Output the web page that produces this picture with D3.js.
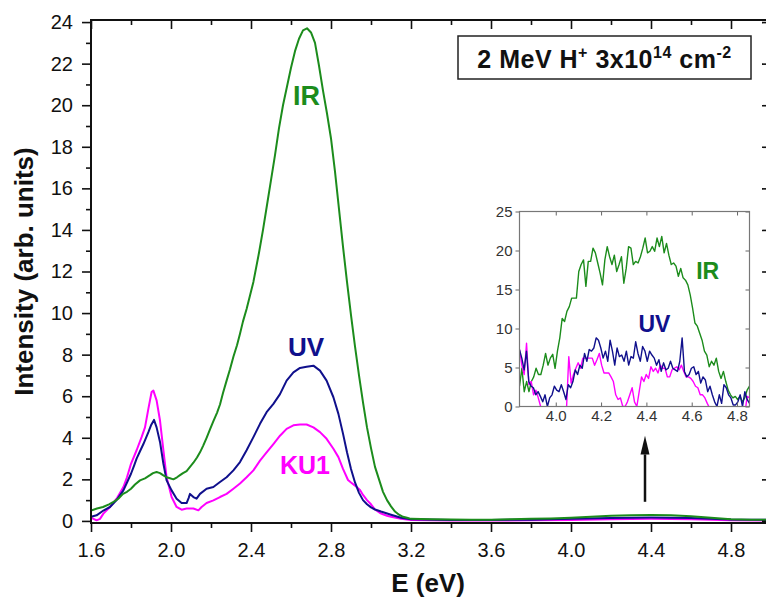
<!DOCTYPE html>
<html><head><meta charset="utf-8">
<script src="https://cdn.jsdelivr.net/npm/d3@7/dist/d3.min.js"></script>
<style>body{margin:0;background:#fff} text{font-family:"Liberation Sans",Arial,sans-serif}</style>
</head><body><svg id="c" width="766" height="598"></svg>
<script>
// ---------- data ----------
const xMajor = [1.6,2.0,2.4,2.8,3.2,3.6,4.0,4.4,4.8];
const xMinor = [1.8,2.2,2.6,3.0,3.4,3.8,4.2,4.6,5.0];
const yMajor = [0,2,4,6,8,10,12,14,16,18,20,22,24];
const yMinor = [1,3,5,7,9,11,13,15,17,19,21,23];
const insetXTicks = [4.0,4.2,4.4,4.6,4.8];
const insetYTicks = [0,5,10,15,20,25];

const eIR = [1.60,1.63,1.66,1.69,1.71,1.74,1.76,1.78,1.80,1.82,1.845,1.87,1.895,1.91,1.928,1.945,1.96,1.978,1.995,2.012,2.03,2.045,2.06,2.078,2.095,2.112,2.13,2.145,2.16,2.178,2.195,2.212,2.23,2.245,2.26,2.278,2.295,2.312,2.33,2.345,2.36,2.378,2.395,2.412,2.44,2.46,2.48,2.50,2.52,2.54,2.56,2.58,2.60,2.62,2.64,2.66,2.68,2.70,2.72,2.74,2.76,2.78,2.80,2.82,2.84,2.86,2.88,2.90,2.92,2.94,2.96,2.98,3.00,3.02,3.04,3.06,3.08,3.10,3.12,3.14,3.16,3.18,3.20,3.3,3.4,3.5,3.6,3.7,3.8,3.9,4.0,4.1,4.2,4.3,4.4,4.5,4.6,4.7,4.8,4.9,5.0];
const vIR = [0.5,0.6,0.67,0.8,0.9,1.1,1.3,1.4,1.55,1.75,1.95,2.05,2.2,2.3,2.35,2.3,2.2,2.1,2.05,2.0,2.1,2.2,2.3,2.4,2.6,2.8,3.05,3.3,3.6,4.0,4.4,4.8,5.2,5.6,6.15,6.75,7.3,7.9,8.45,9.0,9.6,10.2,10.85,11.5,12.9,14.0,15.2,16.4,17.6,18.9,20.0,20.9,21.8,22.6,23.2,23.6,23.7,23.5,23.0,21.9,20.7,19.6,18.4,16.8,15.0,13.2,11.5,9.9,8.4,7.0,5.7,4.5,3.5,2.6,2.0,1.4,1.0,0.7,0.45,0.3,0.2,0.15,0.1,0.08,0.07,0.06,0.06,0.08,0.1,0.12,0.15,0.2,0.25,0.27,0.28,0.27,0.22,0.15,0.08,0.06,0.05];

const eUV = [1.60,1.628,1.662,1.695,1.728,1.762,1.78,1.80,1.815,1.828,1.845,1.862,1.875,1.887,1.90,1.915,1.928,1.945,1.962,1.978,2.003,2.028,2.053,2.078,2.088,2.095,2.112,2.128,2.145,2.178,2.212,2.245,2.278,2.312,2.345,2.378,2.412,2.445,2.478,2.512,2.545,2.578,2.612,2.645,2.678,2.712,2.745,2.778,2.812,2.837,2.86,2.88,2.90,2.92,2.94,2.96,2.98,3.00,3.02,3.05,3.10,3.15,3.20,3.4,3.6,3.8,4.0,4.2,4.4,4.6,4.8,5.0];
const vUV = [0.2,0.27,0.5,0.67,1.0,1.47,1.85,2.27,2.65,3.0,3.35,3.7,4.0,4.27,4.6,4.86,4.5,3.8,2.75,1.95,1.47,1.07,0.86,0.86,1.1,1.3,1.15,1.07,1.3,1.55,1.63,1.87,2.1,2.43,2.83,3.4,4.03,4.67,5.23,5.63,6.1,6.75,7.15,7.36,7.42,7.47,7.23,6.75,5.95,5.15,4.2,3.3,2.5,1.85,1.35,1.0,0.8,0.65,0.55,0.45,0.3,0.15,0.08,0.05,0.05,0.06,0.1,0.14,0.16,0.14,0.07,0.05];

const eKU1 = [1.60,1.628,1.645,1.662,1.695,1.728,1.762,1.78,1.80,1.828,1.853,1.87,1.887,1.903,1.912,1.928,1.945,1.962,1.978,2.003,2.028,2.053,2.078,2.112,2.137,2.153,2.178,2.212,2.245,2.278,2.312,2.345,2.378,2.412,2.445,2.478,2.512,2.545,2.578,2.612,2.645,2.678,2.712,2.745,2.778,2.812,2.837,2.86,2.885,2.90,2.92,2.945,2.96,2.98,3.00,3.02,3.045,3.06,3.08,3.10,3.15,3.20,3.4,3.6,3.8,4.0,4.2,4.4,4.6,4.8,5.0];
const vKU1 = [0.16,0.03,0.1,0.35,0.67,1.07,1.63,2.1,2.75,3.4,4.03,4.5,5.4,6.2,6.27,5.8,4.83,3.4,2.1,1.15,0.67,0.54,0.6,0.6,0.51,0.67,0.86,0.99,1.15,1.3,1.55,1.8,2.1,2.43,2.9,3.3,3.7,4.1,4.43,4.6,4.64,4.64,4.5,4.27,3.95,3.47,3.07,2.5,1.97,1.85,1.7,1.49,1.25,1.0,0.8,0.55,0.38,0.32,0.25,0.2,0.1,0.05,0.02,0.02,0.03,0.05,0.08,0.1,0.08,0.03,0.02];

// inset (zoomed 3.84 - 4.855 eV), evenly sampled
const insetStart = 3.84, insetEnd = 4.855;
const insetIR = [2.6,4.9,1.9,3.2,1.9,3.2,3.8,4.9,4.1,4.1,5.3,6.8,5.3,6.2,6.7,4.9,7.1,8.8,11.3,10.9,12.2,12.8,13.9,13.9,13.9,17.3,18.2,18.8,15.4,18.6,18.6,20.3,19.7,18.4,17.1,15.6,18.8,20.5,19.2,18.2,19.4,17.3,18.2,19.2,15.8,17.7,20.5,20.3,18.2,18.6,18.4,19.2,20.3,21.6,19.7,19.9,20.5,19.9,21.6,20.5,21.8,19.7,20.9,19.4,18.2,18.4,18.0,16.7,17.7,16.5,16.2,15.6,14.3,12.6,10.7,10.3,9.4,8.5,7.1,6.6,5.1,5.8,5.3,6.2,4.5,3.6,4.5,3.2,2.1,1.5,1.1,1.3,0.9,1.3,0.6,1.1,2.1,2.6];
const insetUV = [7.3,6.2,4.7,7.1,3.2,2.6,2.4,1.5,1.9,1.3,0.6,1.5,0,1.1,1.5,2.6,2.1,1.9,2.8,1.9,0.9,2.8,2.4,3.2,4.7,4.1,5.3,4.9,6.8,5.8,7.3,7.1,7.5,8.8,8.5,7.5,6.2,7.1,5.8,8.5,7.1,5.3,7.5,6.4,6.6,5.8,7.1,5.3,6.4,6.2,8.3,6.8,5.8,7.7,7.1,5.8,7.1,6.6,6.2,5.3,6.0,4.5,5.6,4.7,4.9,5.8,4.9,4.7,4.5,5.8,8.8,4.5,3.8,4.1,4.9,5.1,4.1,4.5,3.0,3.8,3.4,1.9,2.6,1.5,0.6,0,1.5,0.4,2.8,2.4,1.5,1.1,0.2,0.2,0.6,1.5,0,1.9,0.9,0.4];
const insetKU1 = [7.3,5.3,4.1,8.1,2.8,3.2,1.5,2.1,1.1,0,-1,-1.5,-1,-2,-1,-1.5,-1,-2,-1,-1.5,-0.5,6.4,3.0,4.1,4.9,5.6,4.9,6.2,6.2,6.2,6.2,6.2,5.3,6.0,6.8,5.3,4.3,4.3,4.3,3.8,3.2,1.5,0.9,1.1,0,0,0.6,1.5,2.4,0.6,0,1.9,3.8,3.2,4.1,3.6,5.1,4.5,4.9,4.3,5.3,4.9,4.9,3.8,3.8,4.7,4.9,5.1,4.7,5.3,4.5,3.8,3.8,3.6,3.2,2.6,2.4,1.5,1.5,1.1,0.4,-0.2,-1,-1,-1,-1,-1,-1,-1,-1,-1,-1,-1,-1,-1,-1,-1,1.3,1.1];

const colors = {IR:"#1c8c1c", UV:"#10108c", KU1:"#ff00ff"};

// ---------- main chart ----------
const svg = d3.select("#c");
svg.append("rect").attr("width",766).attr("height",598).attr("fill","#fff");
const L=91, R=771, T=20, B=523;
const x = d3.scaleLinear().domain([1.6,5.0]).range([L,R]);
const y = d3.scaleLinear().domain([-0.1,24.1]).range([B,T]);

svg.append("clipPath").attr("id","mainClip").append("rect")
  .attr("x",L).attr("y",T).attr("width",R-L).attr("height",B-T);

const line = d3.line().x(d=>x(d[0])).y(d=>y(d[1]));
const series = [
  {k:"KU1", e:eKU1, v:vKU1},
  {k:"UV", e:eUV, v:vUV},
  {k:"IR", e:eIR, v:vIR}
];
const gLines = svg.append("g").attr("clip-path","url(#mainClip)");
series.forEach(s=>{
  gLines.append("path").datum(s.e.map((e,i)=>[e,s.v[i]]))
    .attr("d",line).attr("fill","none").attr("stroke",colors[s.k])
    .attr("stroke-width",2).attr("stroke-linejoin","round");
});

function styleAxis(g, fs){
  g.select(".domain").remove();
  g.selectAll("line").attr("stroke","#111").attr("stroke-width",1.6);
  g.selectAll("text").attr("font-size",fs).attr("fill","#111")
    .style("font-family",'"Liberation Sans",Arial,sans-serif');
}
// bottom
styleAxis(svg.append("g").attr("transform",`translate(0,${B})`)
  .call(d3.axisBottom(x).tickValues(xMajor).tickFormat(d3.format(".1f")).tickSize(9).tickPadding(11)),20);
styleAxis(svg.append("g").attr("transform",`translate(0,${B})`)
  .call(d3.axisBottom(x).tickValues(xMinor).tickFormat("").tickSize(5)),20);
// top (inward)
styleAxis(svg.append("g").attr("transform",`translate(0,${T})`)
  .call(d3.axisBottom(x).tickValues(xMajor).tickFormat("").tickSize(9)),20);
styleAxis(svg.append("g").attr("transform",`translate(0,${T})`)
  .call(d3.axisBottom(x).tickValues(xMinor).tickFormat("").tickSize(5)),20);
// left
styleAxis(svg.append("g").attr("transform",`translate(${L},0)`)
  .call(d3.axisLeft(y).tickValues(yMajor).tickFormat(d3.format("d")).tickSize(9).tickPadding(9)),20);
styleAxis(svg.append("g").attr("transform",`translate(${L},0)`)
  .call(d3.axisLeft(y).tickValues(yMinor).tickFormat("").tickSize(5)),20);
// right (inward)
styleAxis(svg.append("g").attr("transform",`translate(${R},0)`)
  .call(d3.axisLeft(y).tickValues(yMajor).tickFormat("").tickSize(9)),20);
styleAxis(svg.append("g").attr("transform",`translate(${R},0)`)
  .call(d3.axisLeft(y).tickValues(yMinor).tickFormat("").tickSize(5)),20);

svg.append("rect").attr("x",L).attr("y",T).attr("width",R-L).attr("height",B-T)
  .attr("fill","none").attr("stroke","#111").attr("stroke-width",2);

// axis titles
svg.append("text").attr("x",(L+R)/2-3).attr("y",592).attr("text-anchor","middle")
  .attr("font-size",26).attr("font-weight","bold").attr("fill","#111").text("E (eV)");
svg.append("text").attr("transform",`translate(33,${(T+B)/2}) rotate(-90)`).attr("text-anchor","middle")
  .attr("font-size",26).attr("font-weight","bold").attr("fill","#111").text("Intensity (arb. units)");

// curve labels
svg.append("text").attr("x",x(2.61)).attr("y",y(20.0)).attr("font-size",27).attr("font-weight","bold")
  .attr("fill",colors.IR).text("IR");
svg.append("text").attr("x",x(2.585)).attr("y",y(7.95)).attr("font-size",26).attr("font-weight","bold")
  .attr("fill",colors.UV).text("UV");
svg.append("text").attr("x",x(2.545)).attr("y",y(2.25)).attr("font-size",25).attr("font-weight","bold")
  .attr("fill",colors.KU1).text("KU1");

// legend box
svg.append("rect").attr("x",458).attr("y",36).attr("width",293).attr("height",43)
  .attr("fill","#fff").attr("stroke","#222").attr("stroke-width",1.5);
const lt = svg.append("text").attr("x",604.5).attr("y",68).attr("text-anchor","middle")
  .attr("font-size",25).attr("font-weight","bold").attr("fill","#111").attr("letter-spacing",0.5);
lt.append("tspan").text("2 MeV H");
lt.append("tspan").attr("dy",-10).attr("font-size",16).text("+");
lt.append("tspan").attr("dy",10).text(" 3x10");
lt.append("tspan").attr("dy",-10).attr("font-size",16).text("14");
lt.append("tspan").attr("dy",10).text(" cm");
lt.append("tspan").attr("dy",-10).attr("font-size",16).text("-2");

// arrow
const ax = x(4.37);
svg.append("line").attr("x1",ax).attr("x2",ax).attr("y1",y(0.92)).attr("y2",y(3.2))
  .attr("stroke","#111").attr("stroke-width",2.5);
svg.append("path").attr("d",`M${ax},${y(4.1)} L${ax-4.5},${y(3.2)} L${ax+4.5},${y(3.2)} Z`).attr("fill","#111");

// ---------- inset ----------
const iL=519.5, iR=749.5, iT=211.5, iB=406.5;
const ix = d3.scaleLinear().domain([insetStart,insetEnd]).range([iL,iR]);
const iy = d3.scaleLinear().domain([0,25]).range([iB,iT]);
svg.append("rect").attr("x",iL).attr("y",iT).attr("width",iR-iL).attr("height",iB-iT).attr("fill","#fff");
svg.append("clipPath").attr("id","insetClip").append("rect")
  .attr("x",iL).attr("y",iT).attr("width",iR-iL).attr("height",iB-iT);
const iline = d3.line().x(d=>ix(d[0])).y(d=>iy(d[1]));
const gi = svg.append("g").attr("clip-path","url(#insetClip)");
[["IR",insetIR],["KU1",insetKU1],["UV",insetUV]].forEach(([k,arr])=>{
  const n = arr.length;
  gi.append("path").datum(arr.map((v,i)=>[insetStart+i*(insetEnd-insetStart)/(n-1), v]))
    .attr("d",iline).attr("fill","none").attr("stroke",colors[k]).attr("stroke-width",1.4)
    .attr("stroke-linejoin","round");
});
function styleInset(g){
  g.select(".domain").remove();
  g.selectAll("line").attr("stroke","#666").attr("stroke-width",1);
  g.selectAll("text").attr("font-size",15).attr("fill","#333")
    .style("font-family",'"Liberation Sans",Arial,sans-serif');
}
styleInset(svg.append("g").attr("transform",`translate(${iL},0)`)
  .call(d3.axisLeft(iy).tickValues(insetYTicks).tickFormat(d3.format("d")).tickSize(4).tickPadding(3)));
styleInset(svg.append("g").attr("transform",`translate(${iR},0)`)
  .call(d3.axisLeft(iy).tickValues(insetYTicks).tickFormat("").tickSize(4)));
styleInset(svg.append("g").attr("transform",`translate(0,${iB})`)
  .call(d3.axisBottom(ix).tickValues(insetXTicks).tickFormat(d3.format(".1f")).tickSize(-4).tickPadding(4)));
styleInset(svg.append("g").attr("transform",`translate(0,${iT})`)
  .call(d3.axisBottom(ix).tickValues(insetXTicks).tickFormat("").tickSize(4)));
svg.append("rect").attr("x",iL).attr("y",iT).attr("width",iR-iL).attr("height",iB-iT)
  .attr("fill","none").attr("stroke","#777").attr("stroke-width",1.2);
svg.append("text").attr("x",ix(4.62)).attr("y",iy(16.3)).attr("font-size",23).attr("font-weight","bold")
  .attr("fill",colors.IR).text("IR");
svg.append("text").attr("x",ix(4.365)).attr("y",iy(9.5)).attr("font-size",23).attr("font-weight","bold")
  .attr("fill",colors.UV).text("UV");
</script></body></html>
